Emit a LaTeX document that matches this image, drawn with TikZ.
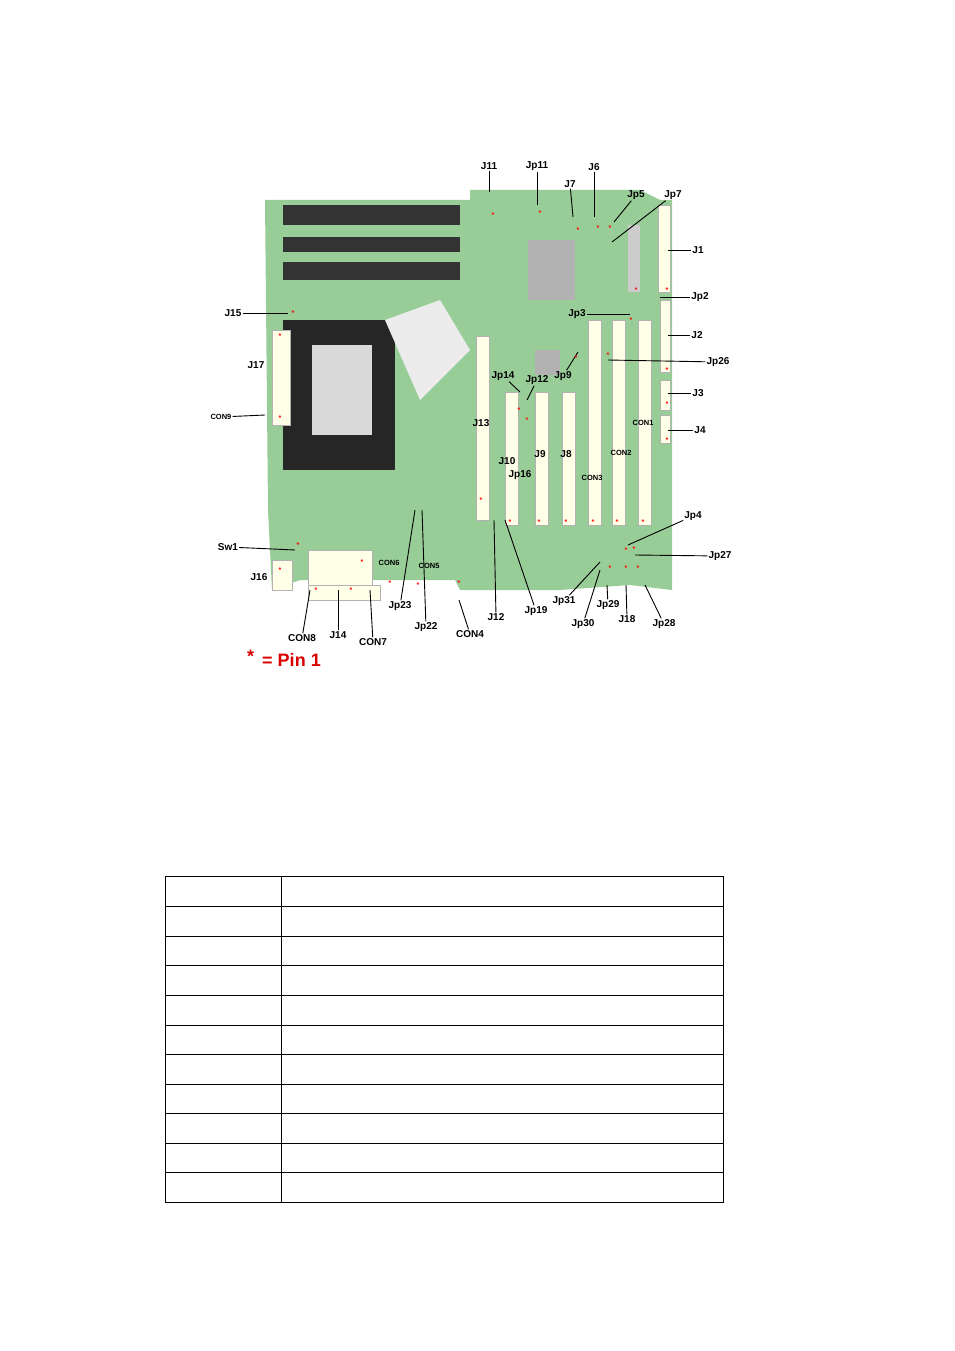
\documentclass[tikz,border=0pt]{standalone}
\usepackage{fontspec}
\setmainfont{Liberation Sans}
\begin{document}
\begin{tikzpicture}[x=1pt,y=-1pt,
 lbl/.style={font=\bfseries\fontsize{10}{10}\selectfont,inner sep=1pt},
 sml/.style={font=\bfseries\fontsize{7.5}{8}\selectfont,inner sep=1pt},
 lead/.style={draw=black,line width=0.9pt},
 slot/.style={fill=white!90!yellow,draw=gray!60},
 pin/.style={text=red,font=\bfseries\fontsize{7}{7}\selectfont,inner sep=0pt}]
\useasboundingbox (0,0) rectangle (954,1351);
% board
\fill[green!35!gray!60!white] (265,200) -- (470,200) -- (470,190) -- (640,190) -- (660,200) -- (672,200) -- (672,590) -- (630,585) -- (560,590) -- (460,590) -- (455,580) -- (300,580) -- (272,590) -- (268,510) -- (265,200) -- cycle;
\fill[black!80] (283,205) rectangle (460,225);
\fill[black!80] (283,237) rectangle (460,252);
\fill[black!80] (283,262) rectangle (460,280);
\fill[black!85] (283,320) rectangle (395,470);
\fill[gray!30] (312,345) rectangle (372,435);
\fill[gray!15] (385,320) -- (440,300) -- (470,350) -- (420,400) -- cycle;
\fill[gray!60] (528,240) rectangle (575,300);
\fill[gray!60] (535,350) rectangle (560,375);
\foreach \x/\a/\b in {476/336/520,505/392/525,535/392/525,562/392/525,588/320/525,612/320/525,638/320/525}
  \fill[slot] (\x,\a) rectangle ++(13,\b-\a);
\fill[slot] (658,205) rectangle (670,292);
\fill[slot] (660,300) rectangle (670,372);
\fill[slot] (660,380) rectangle (670,410);
\fill[slot] (660,415) rectangle (670,443);
\fill[slot] (272,330) rectangle (290,425);
\fill[slot] (308,550) rectangle (372,585);
\fill[slot] (308,585) rectangle (380,600);
\fill[slot] (272,560) rectangle (292,590);
\fill[gray!40] (628,225) rectangle (640,292);
% labels
\def\L#1#2#3#4#5{\node[#5] (n#1) at (#2) {#1}; \coordinate (c#1) at (#3); \draw[lead] (#4) -- (c#1);}
\node[lbl] (nJ11) at (489,166) {J11}; \coordinate (cJ11) at (489,192); \draw[lead] (nJ11) -- (cJ11);
\node[lbl] (nJp11) at (537,166) {Jp11}; \coordinate (cJp11) at (537,205); \draw[lead] (nJp11) -- (cJp11);
\node[lbl] (nJ6) at (594,167) {J6}; \coordinate (cJ6) at (594,217); \draw[lead] (nJ6) -- (cJ6);
\node[lbl] (nJ7) at (570,184) {J7}; \coordinate (cJ7) at (573,217); \draw[lead] (nJ7) -- (cJ7);
\node[lbl] (nJp5) at (636,195) {Jp5}; \coordinate (cJp5) at (614,222); \draw[lead] (nJp5) -- (cJp5);
\node[lbl] (nJp7) at (673,195) {Jp7}; \coordinate (cJp7) at (612,242); \draw[lead] (nJp7) -- (cJp7);
\node[lbl] (nJ1) at (698,250) {J1}; \coordinate (cJ1) at (668,250); \draw[lead] (nJ1) -- (cJ1);
\node[lbl] (nJp2) at (700,297) {Jp2}; \coordinate (cJp2) at (660,297); \draw[lead] (nJp2) -- (cJp2);
\node[lbl] (nJ2) at (697,335) {J2}; \coordinate (cJ2) at (668,335); \draw[lead] (nJ2) -- (cJ2);
\node[lbl] (nJp26) at (718,362) {Jp26}; \coordinate (cJp26) at (608,360); \draw[lead] (nJp26) -- (cJp26);
\node[lbl] (nJ3) at (698,393) {J3}; \coordinate (cJ3) at (668,393); \draw[lead] (nJ3) -- (cJ3);
\node[lbl] (nJ4) at (700,430) {J4}; \coordinate (cJ4) at (668,430); \draw[lead] (nJ4) -- (cJ4);
\node[lbl] (nJp3) at (577,314) {Jp3}; \coordinate (cJp3) at (630,314); \draw[lead] (nJp3) -- (cJp3);
\node[lbl] (nJ15) at (233,313) {J15}; \coordinate (cJ15) at (288,313); \draw[lead] (nJ15) -- (cJ15);
\node[lbl] (nJ17) at (256,365) {J17};
\node[sml] (nCON9) at (221,417) {CON9}; \coordinate (cCON9) at (265,415); \draw[lead] (nCON9) -- (cCON9);
\node[lbl] (nJ13) at (481,423) {J13};
\node[lbl] (nJp14) at (503,376) {Jp14}; \coordinate (cJp14) at (520,392); \draw[lead] (nJp14) -- (cJp14);
\node[lbl] (nJp12) at (537,380) {Jp12}; \coordinate (cJp12) at (527,400); \draw[lead] (nJp12) -- (cJp12);
\node[lbl] (nJp9) at (563,376) {Jp9}; \coordinate (cJp9) at (578,352); \draw[lead] (nJp9) -- (cJp9);
\node[lbl] (nJ10) at (507,461) {J10};
\node[lbl] (nJp16) at (520,475) {Jp16};
\node[lbl] (nJ9) at (540,454) {J9};
\node[lbl] (nJ8) at (566,454) {J8};
\node[sml] (nCON1) at (643,423) {CON1};
\node[sml] (nCON2) at (621,453) {CON2};
\node[sml] (nCON3) at (592,478) {CON3};
\node[lbl] (nJp4) at (693,516) {Jp4}; \coordinate (cJp4) at (628,545); \draw[lead] (nJp4) -- (cJp4);
\node[lbl] (nJp27) at (720,556) {Jp27}; \coordinate (cJp27) at (635,555); \draw[lead] (nJp27) -- (cJp27);
\node[lbl] (nSw1) at (228,547) {Sw1}; \coordinate (cSw1) at (295,550); \draw[lead] (nSw1) -- (cSw1);
\node[lbl] (nJ16) at (259,577) {J16};
\node[sml] (nCON6) at (389,563) {CON6};
\node[sml] (nCON5) at (429,566) {CON5};
\node[lbl] (nJp23) at (400,606) {Jp23}; \coordinate (cJp23) at (415,510); \draw[lead] (nJp23) -- (cJp23);
\node[lbl] (nJp22) at (426,627) {Jp22}; \coordinate (cJp22) at (422,510); \draw[lead] (nJp22) -- (cJp22);
\node[lbl] (nCON4) at (470,634) {CON4}; \coordinate (cCON4) at (459,600); \draw[lead] (nCON4) -- (cCON4);
\node[lbl] (nJ12) at (496,617) {J12}; \coordinate (cJ12) at (494,520); \draw[lead] (nJ12) -- (cJ12);
\node[lbl] (nJp19) at (536,611) {Jp19}; \coordinate (cJp19) at (505,520); \draw[lead] (nJp19) -- (cJp19);
\node[lbl] (nJp31) at (564,601) {Jp31}; \coordinate (cJp31) at (600,562); \draw[lead] (nJp31) -- (cJp31);
\node[lbl] (nJp30) at (583,624) {Jp30}; \coordinate (cJp30) at (600,570); \draw[lead] (nJp30) -- (cJp30);
\node[lbl] (nJp29) at (608,605) {Jp29}; \coordinate (cJp29) at (607,585); \draw[lead] (nJp29) -- (cJp29);
\node[lbl] (nJ18) at (627,619) {J18}; \coordinate (cJ18) at (626,585); \draw[lead] (nJ18) -- (cJ18);
\node[lbl] (nJp28) at (664,624) {Jp28}; \coordinate (cJp28) at (645,585); \draw[lead] (nJp28) -- (cJp28);
\node[lbl] (nCON8) at (302,638) {CON8}; \coordinate (cCON8) at (310,590); \draw[lead] (nCON8) -- (cCON8);
\node[lbl] (nJ14) at (338,635) {J14}; \coordinate (cJ14) at (338,590); \draw[lead] (nJ14) -- (cJ14);
\node[lbl] (nCON7) at (373,642) {CON7}; \coordinate (cCON7) at (370,590); \draw[lead] (nCON7) -- (cCON7);
\node[text=red!85!black,font=\bfseries\fontsize{18}{18}\selectfont] (pin1) at (284,658) {\raisebox{4pt}{*}\, = Pin 1};
% pin stars
\foreach \p in {(493,215),(540,213),(578,230),(598,228),(610,228),(636,290),(667,290),(667,370),(667,404),(667,440),(631,320),(608,355),(576,358),(280,336),(280,418),(293,313),(481,500),(510,522),(539,522),(566,522),(593,522),(617,522),(643,522),(519,410),(527,420),(298,545),(280,570),(362,562),(390,583),(418,585),(459,583),(316,590),(351,590),(610,568),(626,568),(638,568),(626,550),(634,549)}
  \node[pin] at \p {*};
% table
\draw[line width=0.8pt] (165,876) rectangle (723,1202);
\draw[line width=0.8pt] (281,876) -- (281,1202);
\foreach \y in {906,936,965,995,1025,1054,1084,1113,1143,1172} \draw[line width=0.8pt] (165,\y) -- (723,\y);
\end{tikzpicture}
\end{document}
